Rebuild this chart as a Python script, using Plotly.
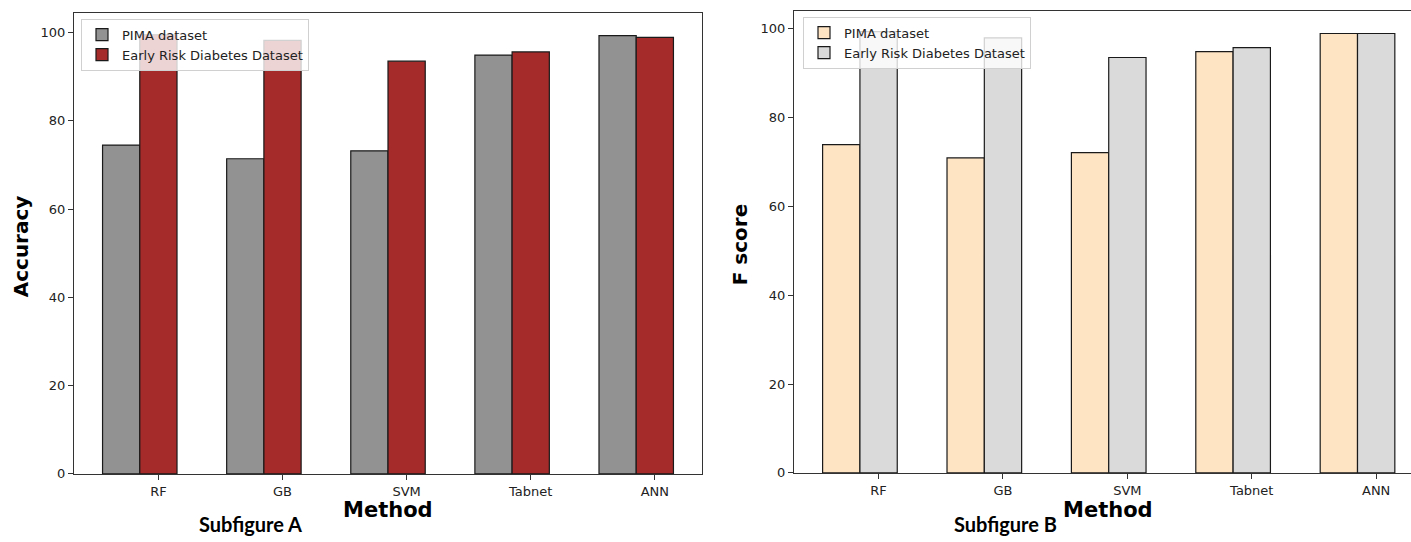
import plotly.graph_objects as go

methods = ["RF", "GB", "SVM", "Tabnet", "ANN"]
acc_pima = [74.5, 71.4, 73.2, 94.9, 99.3]
acc_early = [99.5, 98.2, 93.5, 95.6, 98.9]
f_pima = [73.9, 70.9, 72.1, 94.8, 98.9]
f_early = [99.3, 97.9, 93.5, 95.7, 98.9]
series_names = ["PIMA dataset", "Early Risk Diabetes Dataset"]

W, H = 1411, 542
pos = list(range(len(methods)))
pos_first = [p - 0.3 for p in pos]

TICKFONT = dict(family="DejaVu Sans", size=13, color="#222")
edge = dict(color="#1a1a1a", width=1.2)

fig = go.Figure()
# Panel A
fig.add_trace(go.Bar(x=pos_first, y=acc_pima, width=0.3, name=series_names[0],
                     marker=dict(color="#929292", line=edge), xaxis="x", yaxis="y", legend="legend"))
fig.add_trace(go.Bar(x=pos, y=acc_early, width=0.3, name=series_names[1],
                     marker=dict(color="#A52A2A", line=edge), xaxis="x", yaxis="y", legend="legend"))
# Panel B
fig.add_trace(go.Bar(x=pos_first, y=f_pima, width=0.3, name=series_names[0],
                     marker=dict(color="#FFE4C4", line=edge), xaxis="x2", yaxis="y2", legend="legend2"))
fig.add_trace(go.Bar(x=pos, y=f_early, width=0.3, name=series_names[1],
                     marker=dict(color="#DADADA", line=edge), xaxis="x2", yaxis="y2", legend="legend2"))

def px(x):
    return x / W

def py(y):
    return (H - y) / H

axis_common = dict(showgrid=False, zeroline=False, showline=True, linecolor="#333", linewidth=1,
                   ticks="outside", ticklen=5, tickcolor="#333", tickfont=TICKFONT)

fig.update_layout(
    width=W, height=H,
    margin=dict(l=0, r=0, t=0, b=0),
    paper_bgcolor="white", plot_bgcolor="white",
    barmode="overlay",
    xaxis=dict(domain=[px(74), px(702)], range=[-0.68, 4.38], tickvals=pos, ticktext=methods,
               anchor="y", mirror=True, **axis_common),
    yaxis=dict(domain=[py(481), py(13.3)], range=[0, 104.4], tickvals=[0, 20, 40, 60, 80, 100],
               anchor="x", mirror=True, **axis_common),
    xaxis2=dict(domain=[px(794), 1.0], range=[-0.68, 4.28], tickvals=pos, ticktext=methods,
                anchor="y2", mirror=True, **axis_common),
    yaxis2=dict(domain=[py(480), py(11)], range=[0, 104], tickvals=[0, 20, 40, 60, 80, 100],
                anchor="x2", mirror=False, **axis_common),
    legend=dict(x=px(81), y=py(19), xanchor="left", yanchor="top",
                bgcolor="rgba(255,255,255,0.8)", bordercolor="#d0d0d0", borderwidth=1,
                font=dict(family="DejaVu Sans", size=13, color="#222"), tracegroupgap=0),
    legend2=dict(x=px(803), y=py(17), xanchor="left", yanchor="top",
                 bgcolor="rgba(255,255,255,0.8)", bordercolor="#d0d0d0", borderwidth=1,
                 font=dict(family="DejaVu Sans", size=13, color="#222"), tracegroupgap=0),
    showlegend=True,
)

ann = []
def text(x, y, s, size, family="DejaVu Sans", angle=0):
    ann.append(dict(x=px(x), y=py(y), xref="paper", yref="paper", text=s, showarrow=False,
                    xanchor="center", yanchor="middle", textangle=angle,
                    font=dict(family=family, size=size, color="black")))

text(21, 250, "<b>Accuracy</b>", 20, angle=-90)
text(740, 248, "<b>F score</b>", 20, angle=-90)
text(388, 518, "<b>Method</b>", 21)
text(1108, 518, "<b>Method</b>", 21)
text(250, 532, "<b>Subfigure A</b>", 20, family="Lato")
text(1005, 532, "<b>Subfigure B</b>", 20, family="Lato")
fig.update_layout(annotations=ann)

fig.write_html("out.html", config={"displayModeBar": False},
               post_script="document.body.style.margin='0';document.body.style.overflow='hidden';")
